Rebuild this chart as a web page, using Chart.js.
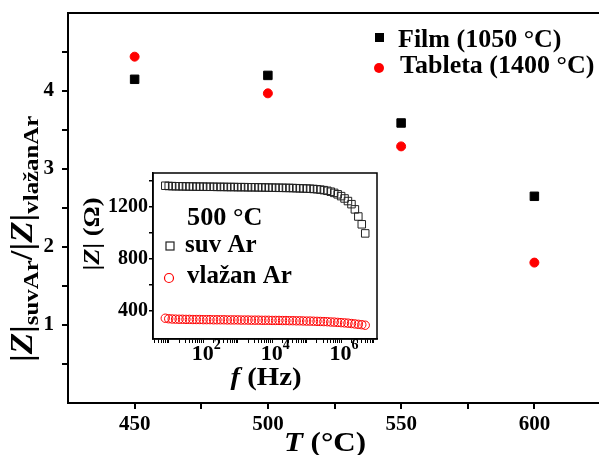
<!DOCTYPE html>
<html>
<head>
<meta charset="utf-8">
<script src="https://cdn.jsdelivr.net/npm/chart.js@4.4.1/dist/chart.umd.min.js"></script>
<style>
  html, body { margin: 0; padding: 0; background: #fff; overflow: hidden; width: 599px; height: 455px; }
  #mainChart { position: absolute; left: 0; top: 0; }
  #insetChart { position: absolute; left: 70px; top: 160px; }
</style>
</head>
<body>
<canvas id="mainChart" width="608" height="455"></canvas>
<canvas id="insetChart" width="320" height="240"></canvas>
<script>
// main plot: |Z| ratio (dry / wet Ar) vs temperature
var temps = [450, 500, 550, 600];
var ratioFilm = [4.15, 4.20, 3.59, 2.65];
var ratioTableta = [4.44, 3.97, 3.29, 1.80];
var tempTicks = [450, 475, 500, 525, 550, 575, 600];
var ratioTicks = [0.5, 1, 1.5, 2, 2.5, 3, 3.5, 4, 4.5];

// inset: |Z| vs f at 500 °C
var freq = [7.94, 10, 12.6, 15.8, 20, 25.1, 31.6, 39.8, 50.1, 63.1,
  79.4, 100, 126, 158, 200, 251, 316, 398, 501, 631,
  794, 1000, 1260, 1580, 2000, 2510, 3160, 3980, 5010, 6310,
  7940, 10000, 12600, 15800, 20000, 25100, 31600, 39800, 50100, 63100,
  79400, 100000, 126000, 158000, 200000, 251000, 316000, 398000, 501000, 631000,
  794000, 1000000, 1260000, 1580000, 2000000, 2510000, 3160000, 3980000, 5010000];
var zDry = [1362, 1360, 1359, 1358, 1358, 1357, 1357, 1356, 1356, 1355,
  1355, 1355, 1354, 1354, 1354, 1353, 1353, 1353, 1352, 1352,
  1352, 1351, 1351, 1351, 1350, 1350, 1350, 1349, 1349, 1348,
  1348, 1347, 1347, 1346, 1346, 1345, 1345, 1344, 1343, 1342,
  1341, 1340, 1339, 1337, 1335, 1332, 1328, 1323, 1316, 1307,
  1296, 1282, 1264, 1244, 1220, 1180, 1125, 1065, 995];
var zWet = [342, 338, 336, 335, 334, 334, 333, 333, 332, 332,
  332, 331, 331, 331, 330, 330, 330, 330, 329, 329,
  329, 329, 328, 328, 328, 327, 327, 327, 326, 326,
  326, 325, 325, 325, 324, 324, 323, 323, 322, 322,
  321, 320, 320, 319, 318, 317, 316, 315, 313, 312,
  310, 308, 306, 304, 301, 298, 295, 292, 288];
var zTicks = [400, 600, 800, 1000, 1200, 1400];
var zLabels = [400, 800, 1200];
var fDecades = [1, 2, 3, 4, 5, 6, 7];
var fLabels = [2, 4, 6];

var FONT = 'Liberation Serif';

// draws mixed-style text; k stretches it along the writing direction
function drawRuns(ctx, runs, x, y, align, k) {
  k = k || 1;
  var total = 0;
  runs.forEach(function (r) { ctx.font = r.font; total += ctx.measureText(r.text).width; });
  ctx.save();
  ctx.translate(x, y);
  ctx.scale(k, 1);
  var cx = align === 'center' ? -total / 2 : 0;
  runs.forEach(function (r) {
    ctx.font = r.font;
    ctx.fillText(r.text, cx, r.dy || 0);
    cx += ctx.measureText(r.text).width;
  });
  ctx.restore();
}

function pts(xs, ys) {
  return xs.map(function (x, i) { return { x: x, y: ys[i] }; });
}

function noPadX(s) { s.paddingLeft = 0; s.paddingRight = 0; }
function noPadY(s) { s.paddingTop = 0; s.paddingBottom = 0; }

var mainDecor = {
  id: 'mainDecor',
  afterDraw: function (chart) {
    var ctx = chart.ctx, a = chart.chartArea;
    ctx.save();
    ctx.strokeStyle = '#000';
    ctx.lineWidth = 2;
    ctx.strokeRect(a.left, a.top, a.right - a.left, a.bottom - a.top);

    ctx.fillStyle = '#000';
    ctx.textAlign = 'left';
    ctx.textBaseline = 'alphabetic';
    // legend
    ctx.fillRect(375, 33, 9, 9);
    ctx.font = 'bold 26px ' + FONT;
    ctx.fillText(chart.data.datasets[0].label, 398, 47);
    ctx.fillStyle = '#ff0000';
    ctx.beginPath();
    ctx.arc(379, 68, 5, 0, Math.PI * 2);
    ctx.fill();
    ctx.fillStyle = '#000';
    ctx.fillText(chart.data.datasets[1].label, 400, 73);

    // x title
    var big = 'bold 27px ' + FONT, bigI = 'italic bold 27px ' + FONT;
    drawRuns(ctx, [{ text: 'T', font: bigI }, { text: ' (°C)', font: big }], 325, 451, 'center', 1.15);

    // y title, drawn upward from its bottom end
    var yt = 'bold 31px ' + FONT, ytI = 'italic bold 31px ' + FONT, ys = 'bold 22px ' + FONT;
    ctx.translate(32, 362);
    ctx.rotate(-Math.PI / 2);
    drawRuns(ctx, [
      { text: '|', font: yt }, { text: 'Z', font: ytI }, { text: '|', font: yt },
      { text: 'suvAr', font: ys, dy: 6 },
      { text: '/|', font: yt }, { text: 'Z', font: ytI }, { text: '|', font: yt },
      { text: 'vlažanAr', font: ys, dy: 6 }
    ], 0, 0, 'left', 1.13);
    ctx.restore();
  }
};

new Chart(document.getElementById('mainChart'), {
  type: 'scatter',
  data: {
    datasets: [{
      label: 'Film (1050 °C)',
      data: pts(temps, ratioFilm),
      pointStyle: 'rect',
      pointRadius: 6,
      backgroundColor: '#000',
      borderColor: '#000',
      borderWidth: 1
    }, {
      label: 'Tableta (1400 °C)',
      data: pts(temps, ratioTableta),
      pointStyle: 'circle',
      pointRadius: 4.5,
      backgroundColor: '#ff0000',
      borderColor: '#ff0000',
      borderWidth: 1
    }]
  },
  options: {
    responsive: false,
    animation: false,
    layout: { padding: { top: 13, right: 3, left: 0, bottom: 0 } },
    plugins: { legend: { display: false }, tooltip: { enabled: false } },
    scales: {
      x: {
        type: 'linear', min: 425, max: 625,
        afterBuildTicks: function (s) { s.ticks = tempTicks.map(function (v) { return { value: v }; }); },
        afterFit: function (s) { s.height = 52; noPadX(s); },
        grid: { drawOnChartArea: false, tickLength: 6, color: '#000', lineWidth: 2 },
        border: { display: true, color: '#000', width: 2 },
        ticks: {
          color: '#000', padding: 3, maxRotation: 0, autoSkip: false,
          font: { family: FONT, size: 21, weight: 'bold' },
          callback: function (v) { return v % 50 === 0 ? v : ''; }
        }
      },
      y: {
        min: 0, max: 5,
        afterBuildTicks: function (s) { s.ticks = ratioTicks.map(function (v) { return { value: v }; }); },
        afterFit: function (s) { s.width = 68; noPadY(s); },
        grid: { drawOnChartArea: false, tickLength: 6, color: '#000', lineWidth: 2 },
        border: { display: true, color: '#000', width: 2 },
        ticks: {
          color: '#000', padding: 8, autoSkip: false,
          font: { family: FONT, size: 21, weight: 'bold' },
          callback: function (v) { return v % 1 === 0 ? v : ''; }
        }
      }
    }
  },
  plugins: [mainDecor]
});

var insetDecor = {
  id: 'insetDecor',
  afterDraw: function (chart) {
    var ctx = chart.ctx, a = chart.chartArea, sx = chart.scales.x;
    ctx.save();
    ctx.strokeStyle = '#000';
    ctx.lineWidth = 1.5;
    ctx.strokeRect(a.left, a.top, a.right - a.left, a.bottom - a.top);

    ctx.fillStyle = '#000';
    ctx.textBaseline = 'alphabetic';
    ctx.textAlign = 'left';
    // 10^n labels
    fLabels.forEach(function (e) {
      var px = sx.getPixelForValue(Math.pow(10, e));
      drawRuns(ctx, [
        { text: '10', font: 'bold 22px ' + FONT },
        { text: String(e), font: 'bold 14px ' + FONT, dy: -11 }
      ], px + 3, 200, 'center');
    });

    var t = 'bold 25px ' + FONT, tI = 'italic bold 25px ' + FONT;
    ctx.font = t;
    drawRuns(ctx, [{ text: '500 °C', font: t }], 117, 65, 'left', 1.05);
    ctx.fillText(chart.data.datasets[0].label, 115, 92);
    ctx.fillText(chart.data.datasets[1].label, 117, 123);
    // legend markers
    ctx.lineWidth = 1.2;
    ctx.strokeStyle = '#222';
    ctx.strokeRect(96, 82, 8, 8);
    ctx.strokeStyle = '#ff0000';
    ctx.beginPath();
    ctx.arc(99, 118, 4.5, 0, Math.PI * 2);
    ctx.stroke();

    // axis titles
    drawRuns(ctx, [{ text: 'f', font: tI }, { text: ' (Hz)', font: t }], 196, 225, 'center', 1.15);
    var tt = 'bold 23px ' + FONT, ttI = 'italic bold 23px ' + FONT;
    ctx.translate(29, 74);
    ctx.rotate(-Math.PI / 2);
    drawRuns(ctx, [
      { text: '|', font: tt }, { text: 'Z', font: ttI }, { text: '| (Ω)', font: tt }
    ], 0, 0, 'center', 1.15);
    ctx.restore();
  }
};

new Chart(document.getElementById('insetChart'), {
  type: 'scatter',
  data: {
    datasets: [{
      label: 'suv Ar',
      data: pts(freq, zDry),
      pointStyle: 'rect',
      pointRadius: 5.3,
      backgroundColor: 'rgba(0,0,0,0)',
      borderColor: '#222',
      borderWidth: 1
    }, {
      label: 'vlažan Ar',
      data: pts(freq, zWet),
      pointStyle: 'circle',
      pointRadius: 4.2,
      backgroundColor: 'rgba(0,0,0,0)',
      borderColor: '#ff0000',
      borderWidth: 1
    }]
  },
  options: {
    responsive: false,
    animation: false,
    layout: { padding: { top: 13, right: 13, left: 0, bottom: 0 } },
    plugins: { legend: { display: false }, tooltip: { enabled: false } },
    scales: {
      x: {
        type: 'logarithmic', min: 3.5, max: 1.1e7,
        afterBuildTicks: function (s) {
          var list = [];
          fDecades.forEach(function (d) {
            for (var m = 1; m < 10; m++) {
              var v = m * Math.pow(10, d - 1);
              if (v >= s.min && v <= s.max) list.push({ value: v });
            }
          });
          s.ticks = list;
        },
        afterFit: function (s) { s.height = 61; noPadX(s); },
        grid: { drawOnChartArea: false, tickLength: 4, color: '#000', lineWidth: 1 },
        border: { display: true, color: '#000', width: 1.5 },
        ticks: { display: true, autoSkip: false, callback: function () { return ''; } }
      },
      y: {
        min: 182, max: 1460,
        afterBuildTicks: function (s) { s.ticks = zTicks.map(function (v) { return { value: v }; }); },
        afterFit: function (s) { s.width = 83; noPadY(s); },
        grid: { drawOnChartArea: false, tickLength: 4, color: '#000', lineWidth: 1.5 },
        border: { display: true, color: '#000', width: 1.5 },
        ticks: {
          color: '#000', padding: 1, autoSkip: false,
          font: { family: FONT, size: 20, weight: 'bold' },
          callback: function (v) { return zLabels.indexOf(v) >= 0 ? v : ''; }
        }
      }
    }
  },
  plugins: [insetDecor]
});
</script>
</body>
</html>
